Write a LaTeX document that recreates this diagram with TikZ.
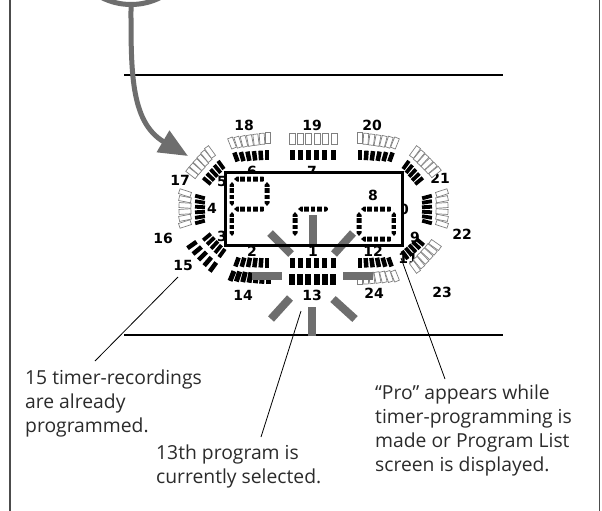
\documentclass[tikz,border=0pt]{standalone}
\usepackage{fontspec}
\setmainfont{Open Sans}
\newfontfamily\numfont{DejaVu Sans Bold}
\usetikzlibrary{calc,arrows.meta}
\definecolor{flash}{HTML}{6E6E6E}
\definecolor{ink}{HTML}{2B2B2B}
\tikzset{
  x=1pt,y=-1pt,
  solidbar/.style={fill=black},
  hollowbar/.style={draw=black!50,fill=white,line width=0.7pt},
  flashbar/.style={draw=flash,line width=8pt},
  rule/.style={draw=black,line width=1.6pt},
  edge/.style={draw=black!70,line width=1.6pt},
  leader/.style={draw=black,line width=0.8pt},
  num/.style={font=\numfont\fontsize{14}{14}\selectfont,inner sep=0pt,text=black},
  note/.style={font=\fontsize{19.3}{24}\selectfont,inner sep=0pt,anchor=base west,align=left,text=ink},
}
% \barfan{start}{end}{count}{rot1}{rot2}{style}{w}{h}
\newcommand{\barfan}[8]{%
  \pgfmathsetmacro{\nm}{int(#3-1)}%
  \foreach \i in {0,...,\nm}{%
    \pgfmathsetmacro{\tt}{\i/\nm}%
    \pgfmathsetmacro{\rr}{#4+(#5-#4)*\tt}%
    \path[#6,shift={($#1!\tt!#2$)},rotate=\rr] (-#7/2,-#8/2) rectangle (#7/2,#8/2);
  }}
\newcommand{\hseg}[3]{%
  \begin{scope}
    \clip (#1,#3)--(#1+3,#3-2.5)--(#2-3,#3-2.5)--(#2,#3)--(#2-3,#3+2.5)--(#1+3,#3+2.5)--cycle;
    \draw[line width=5.4pt,dash pattern=on 4.6pt off 1.8pt] (#1,#3)--(#2,#3);
  \end{scope}}
\newcommand{\vseg}[3]{%
  \begin{scope}
    \clip (#1,#2)--(#1-2.5,#2+3)--(#1-2.5,#3-3)--(#1,#3)--(#1+2.5,#3-3)--(#1+2.5,#2+3)--cycle;
    \draw[line width=5.4pt,dash pattern=on 4.6pt off 1.8pt] (#1,#2)--(#1,#3);
  \end{scope}}
\begin{document}
\begin{tikzpicture}
\useasboundingbox (0,0) rectangle (602,511);
\fill[white] (0,0) rectangle (602,511);
% frame
\coordinate (fl0) at (10,0); \coordinate (fl1) at (10,511);
\coordinate (fr0) at (599.5,0); \coordinate (fr1) at (599.5,511);
\draw[edge] (fl0)--(fl1);
\draw[edge] (fr0)--(fr1);
% rules
\coordinate (r1a) at (124,75); \coordinate (r1b) at (503,75);
\coordinate (r2a) at (124,335); \coordinate (r2b) at (503,335);
\draw[rule] (r1a)--(r1b);
\draw[rule] (r2a)--(r2b);
% top circle and arrow
\begin{scope}
  \clip (0,0) rectangle (602,20);
  \draw[draw=flash,line width=5pt] (131,-60.5) circle[radius=65];
\end{scope}
\coordinate (arrS) at (131,5);
\coordinate (arrT) at (188,156);
\draw[draw=flash,line width=5pt,-{Triangle[length=29pt,width=24pt,fill=flash]}]
  (arrS) .. controls (131,70) and (130,122) .. (arrT);
% numbers
\foreach \nam/\px/\py in {18/244/125,19/312/125,20/372/125,17/180/180,21/440/178,4/212/208,
  16/163/238,22/462/234,15/183/265,14/243/295,13/312/295,24/374/293,23/442/292,
  2/252/251,1/313/251,12/373/251,6/252/171,7/312/171,5/222/181,3/222/236,10/399/209,9/415/237,11/408/258}
  \node[num] (n\nam) at (\px,\py) {\nam};
% outer and inner bars
\barfan{(232,143)}{(268,138)}{7}{22}{0}{hollowbar}{5}{11}
\barfan{(292,139)}{(334,139)}{6}{0}{0}{hollowbar}{6}{11}
\barfan{(360,138)}{(395,143)}{7}{0}{-22}{hollowbar}{5}{11}
\barfan{(236,157)}{(267,155)}{6}{20}{0}{solidbar}{4.5}{9.5}
\barfan{(292,155)}{(333,155)}{6}{0}{0}{solidbar}{5}{10}
\barfan{(360,155)}{(391,157)}{6}{0}{-20}{solidbar}{4.5}{9.5}
\barfan{(237,262)}{(267,263)}{6}{-20}{0}{solidbar}{4.5}{9.5}
\barfan{(292,263)}{(333,263)}{6}{0}{0}{solidbar}{5}{10}
\barfan{(360,263)}{(390,262)}{6}{0}{20}{solidbar}{4.5}{9.5}
\barfan{(232,276)}{(268,279)}{7}{-22}{0}{solidbar}{5}{10.5}
\barfan{(292,279)}{(333,279)}{6}{0}{0}{solidbar}{6}{11}
\barfan{(360,279)}{(395,276)}{7}{0}{22}{hollowbar}{5}{11}
% sides
\barfan{(200,197)}{(200,222)}{6}{75}{105}{solidbar}{3.8}{10}
\barfan{(185,193)}{(185,224)}{6}{72}{108}{hollowbar}{5}{12}
\barfan{(427,197)}{(427,222)}{6}{105}{75}{solidbar}{3.8}{10}
\barfan{(442,193)}{(442,224)}{6}{108}{72}{hollowbar}{5}{12}
% diagonals
\barfan{(192,173)}{(210,152)}{6}{52}{36}{hollowbar}{5}{12}
\barfan{(207,181)}{(221,165)}{5}{50}{36}{solidbar}{3.8}{10}
\barfan{(415,152)}{(435,172)}{6}{-36}{-52}{hollowbar}{5}{12}
\barfan{(406,165)}{(419,181)}{5}{-36}{-50}{solidbar}{3.8}{10}
\barfan{(207,237)}{(222,253)}{5}{-50}{-36}{solidbar}{3.8}{10}
\barfan{(192,245)}{(213,267)}{5}{-55}{-36}{solidbar}{4.5}{11}
\barfan{(405,255)}{(420,242)}{5}{36}{50}{solidbar}{3.8}{10}
\barfan{(415,267)}{(435,245)}{6}{36}{55}{hollowbar}{5}{12}
% display window hides the labels behind it
\coordinate (winA) at (225,172); \coordinate (winB) at (402,245);
\fill[white] (winA) rectangle (winB);
% Pro segments
\hseg{234}{266}{179}
\vseg{232}{182}{206}
\vseg{267}{182}{206}
\hseg{234}{266}{209}
\vseg{232}{212}{236}
\vseg{295}{212}{236}
\hseg{298}{329}{209}
\hseg{361}{393}{209}
\vseg{359}{212}{236}
\vseg{394}{212}{236}
\hseg{361}{393}{239}
\node[num] (n8) at (373,195) {8};
% flash bars
\coordinate (f1a) at (313,215); \coordinate (f1b) at (313,244);
\coordinate (f2a) at (312,307); \coordinate (f2b) at (312,336);
\coordinate (f3a) at (252,276); \coordinate (f3b) at (282,276);
\coordinate (f4a) at (343,276); \coordinate (f4b) at (373,276);
\coordinate (f5a) at (270,233); \coordinate (f5b) at (291,254);
\coordinate (f6a) at (353,233); \coordinate (f6b) at (334,254);
\coordinate (f7a) at (290,298); \coordinate (f7b) at (271,319);
\coordinate (f8a) at (333,299); \coordinate (f8b) at (355,319);
\foreach \k in {1,...,8} \draw[flashbar] (f\k a)--(f\k b);
\draw[draw=black,line width=3pt] (winA) rectangle (winB);
% notes
\node[note] (t15) at (25,432) {15 timer-recordings\\are already\\programmed.};
\node[note] (t13) at (156,483) {13th program is\\currently selected.};
\node[note] (tpro) at (375,471) {“Pro” appears while\\timer-programming is\\made or Program List\\screen is displayed.};
% leaders
\coordinate (la) at (178,277); \coordinate (lb) at (95,361);
\coordinate (lc) at (301,311); \coordinate (ld) at (261,437);
\coordinate (le) at (401,258); \coordinate (lf) at (445,379);
\draw[leader] (la)--(lb);
\draw[leader] (lc)--(ld);
\draw[leader] (le)--(lf);
\end{tikzpicture}
\end{document}
